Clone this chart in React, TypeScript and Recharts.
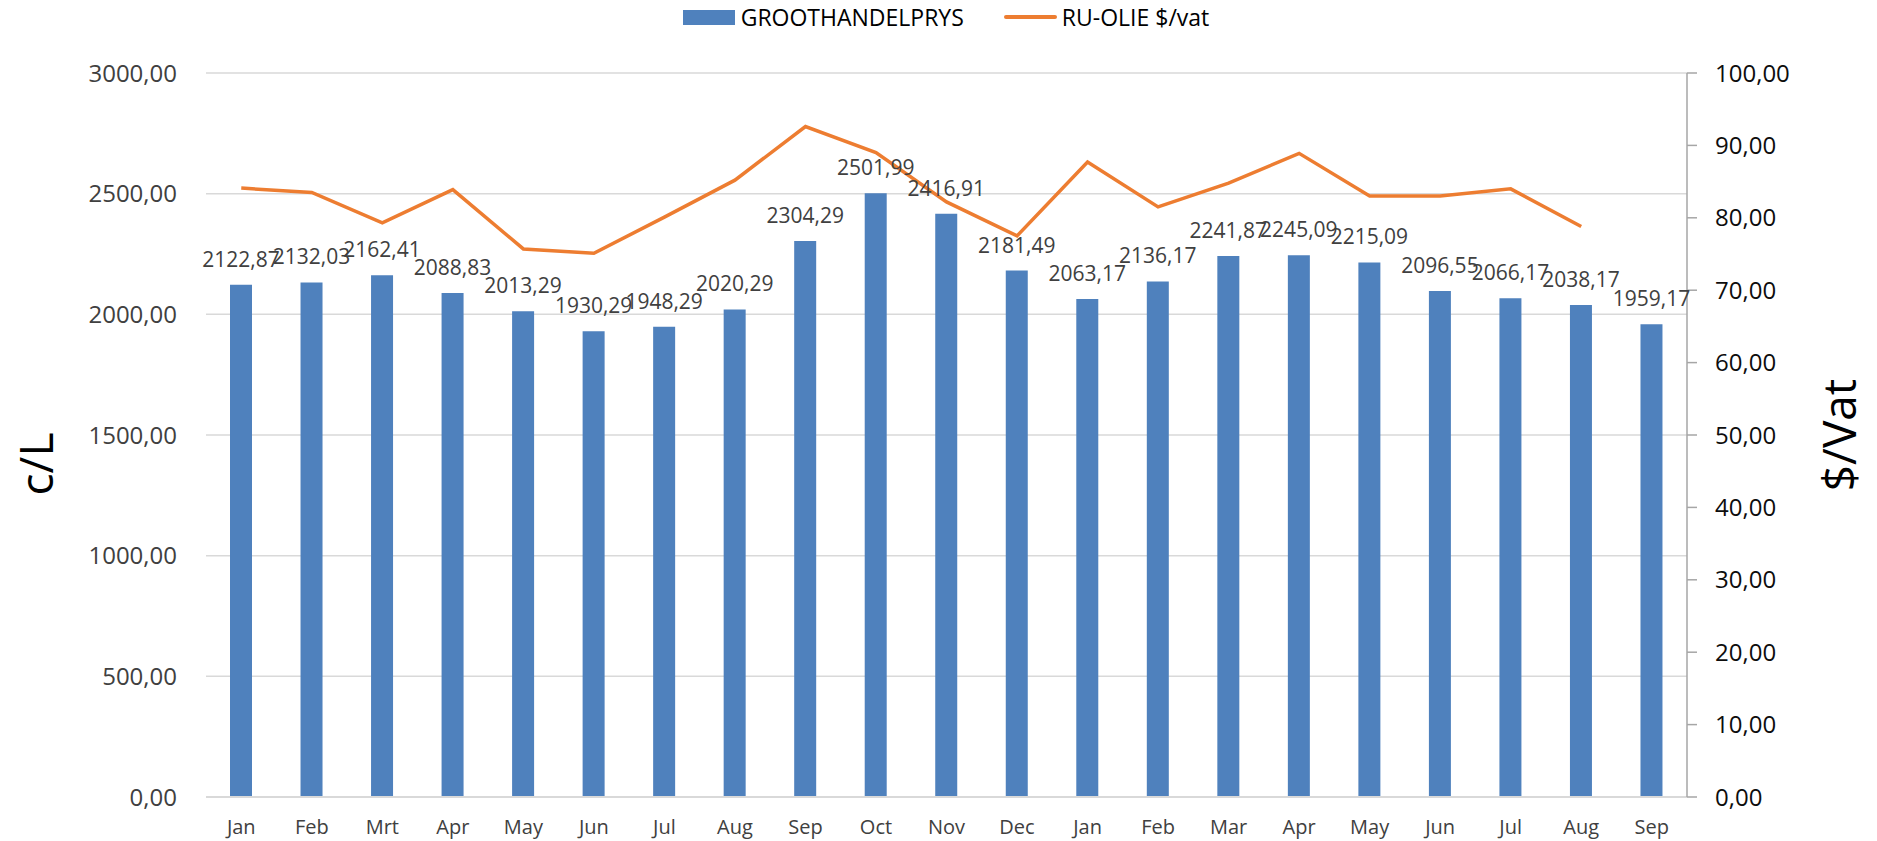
import React from "react"
import {
  ComposedChart,
  Bar,
  Line,
  XAxis,
  YAxis,
  CartesianGrid,
  Legend,
  LabelList,
} from "recharts"

const months = [
  "Jan", "Feb", "Mrt", "Apr", "May", "Jun", "Jul", "Aug", "Sep", "Oct", "Nov",
  "Dec", "Jan", "Feb", "Mar", "Apr", "May", "Jun", "Jul", "Aug", "Sep",
]

// c/L
const groothandelprys = [
  2122.87, 2132.03, 2162.41, 2088.83, 2013.29, 1930.29, 1948.29, 2020.29,
  2304.29, 2501.99, 2416.91, 2181.49, 2063.17, 2136.17, 2241.87, 2245.09,
  2215.09, 2096.55, 2066.17, 2038.17, 1959.17,
]

// $/vat (no value for the last month)
const ruOlie: (number | null)[] = [
  84.1, 83.5, 79.3, 83.9, 75.7, 75.1, 80.1, 85.2, 92.6, 89.0, 82.2, 77.5,
  87.7, 81.5, 84.8, 88.9, 83.0, 83.0, 84.0, 78.8, null,
]

const leftTicks = [0, 500, 1000, 1500, 2000, 2500, 3000]
const rightTicks = [0, 10, 20, 30, 40, 50, 60, 70, 80, 90, 100]

const data = months.map((month, i) => ({
  month,
  prys: groothandelprys[i],
  olie: ruOlie[i],
}))

const BLUE = "#4f81bd"
const ORANGE = "#ed7d31"
const FONT = "'Open Sans', 'Liberation Sans', sans-serif"

const fmt = (v: number) => Number(v).toFixed(2).replace(".", ",")

function LegendContent() {
  return (
    <div
      style={{
        display: "flex",
        justifyContent: "center",
        alignItems: "center",
        height: 30,
        paddingLeft: 15,
        fontFamily: FONT,
        fontSize: 23,
        color: "#000",
      }}
    >
      <span style={{ display: "inline-block", width: 52, height: 15, background: BLUE, marginRight: 6 }} />
      <span>GROOTHANDELPRYS</span>
      <span style={{ display: "inline-block", width: 53, height: 4, borderRadius: 2, background: ORANGE, marginLeft: 40, marginRight: 5 }} />
      <span>RU-OLIE $/vat</span>
    </div>
  )
}

function AxisTitle(props: any) {
  const { viewBox, text, dx } = props
  const x = viewBox.x + dx
  const y = viewBox.y + viewBox.height / 2 + (props.dy || 0)
  return (
    <text
      x={x}
      y={y}
      transform={`rotate(-90 ${x} ${y})`}
      textAnchor="middle"
      dominantBaseline="central"
      fontFamily={FONT}
      fontSize={46}
      fill="#000"
    >
      {text}
    </text>
  )
}

export default function App() {
  return (
    <div style={{ position: "absolute", left: 0, top: 0, width: 1877, height: 841, background: "#fff" }}>
      <ComposedChart
        width={1877}
        height={841}
        data={data}
        margin={{ top: 43, right: 0, bottom: 0, left: 0 }}
        style={{ fontFamily: FONT }}
      >
        <Legend
          verticalAlign="top"
          content={<LegendContent />}
          wrapperStyle={{ top: 2, height: 30 }}
        />
        <CartesianGrid yAxisId="left" vertical={false} stroke="#d9d9d9" strokeWidth={1.5} />
        <XAxis
          dataKey="month"
          interval={0}
          height={44}
          tickLine={false}
          axisLine={{ stroke: "#d9d9d9", strokeWidth: 2 }}
          tickMargin={17}
          tick={{ fontSize: 20, fill: "#404040", fontFamily: FONT }}
        />
        <YAxis
          yAxisId="left"
          width={206}
          domain={[0, 3000]}
          ticks={leftTicks}
          tickFormatter={fmt}
          axisLine={false}
          tickLine={false}
          tickMargin={23}
          tick={{ fontSize: 24, fill: "#404040", fontFamily: FONT }}
          label={<AxisTitle text="c/L" dx={35} dy={29} />}
        />
        <YAxis
          yAxisId="right"
          orientation="right"
          width={190}
          domain={[0, 100]}
          ticks={rightTicks}
          tickFormatter={fmt}
          axisLine={{ stroke: "#a6a6a6", strokeWidth: 1.5 }}
          tickLine={{ stroke: "#a6a6a6", strokeWidth: 1.5 }}
          tickSize={10}
          tickMargin={18}
          tick={{ fontSize: 24, fill: "#0d0d0d", fontFamily: FONT }}
          label={<AxisTitle text="$/Vat" dx={151} dy={0} />}
        />
        <Bar yAxisId="left" dataKey="prys" fill={BLUE} barSize={22} isAnimationActive={false}>
          <LabelList
            dataKey="prys"
            position="top"
            offset={18}
            formatter={fmt}
            fill="#404040"
            fontSize={21}
            fontFamily={FONT}
          />
        </Bar>
        <Line
          yAxisId="right"
          type="linear"
          dataKey="olie"
          stroke={ORANGE}
          strokeWidth={3.5}
          dot={false}
          activeDot={false}
          isAnimationActive={false}
        />
      </ComposedChart>
    </div>
  )
}
